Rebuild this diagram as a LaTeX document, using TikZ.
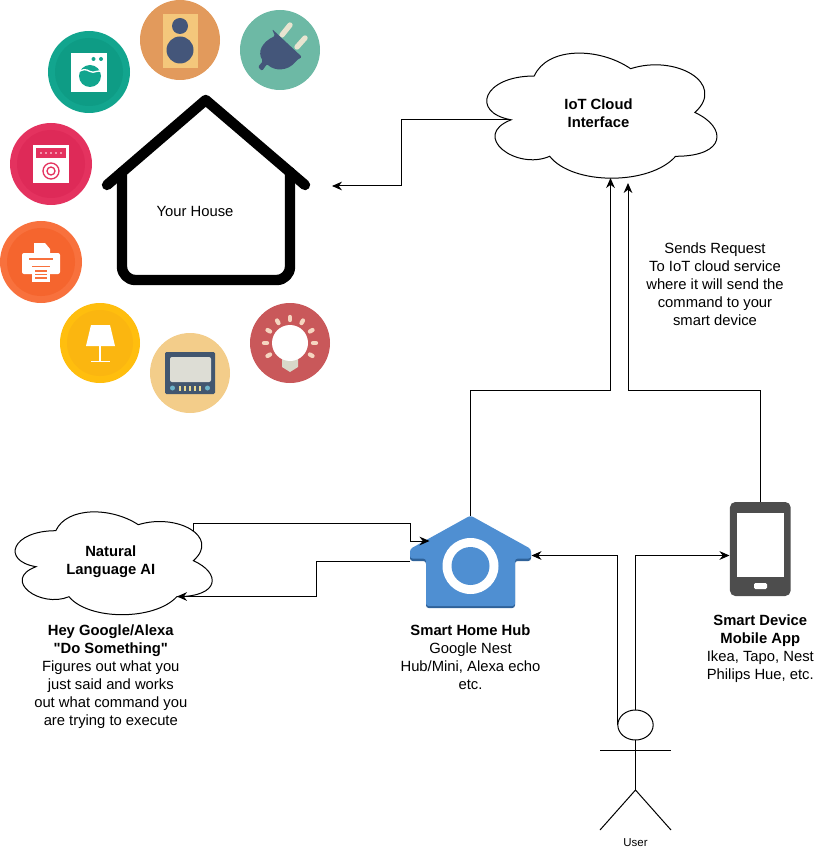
\documentclass[tikz,border=0pt]{standalone}
\usepackage{fontspec}
\setmainfont{Liberation Sans}[Ligatures=TeXOff]
\usetikzlibrary{arrows.meta,shapes.geometric}

\definecolor{hubblue}{HTML}{4F8FD2}
\definecolor{hubdark}{HTML}{2F6299}
\definecolor{phonegrey}{HTML}{4D4D4D}
\definecolor{navy}{HTML}{44567A}
\definecolor{speakerbg}{HTML}{E29A5C}
\definecolor{speakerbox}{HTML}{F4C77B}
\definecolor{plugbg}{HTML}{6DB9A5}
\definecolor{prong}{HTML}{E8E4D0}
\definecolor{washerbg}{HTML}{12A58E}
\definecolor{washerin}{HTML}{0E9C85}
\definecolor{ovenbg}{HTML}{E4325F}
\definecolor{ovenin}{HTML}{DE2A58}
\definecolor{printerbg}{HTML}{F8713D}
\definecolor{printerin}{HTML}{F5652E}
\definecolor{lampbg}{HTML}{FFBE0E}
\definecolor{lampin}{HTML}{FBB610}
\definecolor{tvbg}{HTML}{F3CD8A}
\definecolor{tvbody}{HTML}{42566F}
\definecolor{tvscreen}{HTML}{DDDDD5}
\definecolor{tvbutton}{HTML}{6DB3C9}
\definecolor{tvdot}{HTML}{E8D890}
\definecolor{bulbbg}{HTML}{C9585A}
\definecolor{bulbray}{HTML}{F5D5C0}
\definecolor{bulbcap}{HTML}{D8D8C8}

\tikzset{
  pics/cloudshape/.style 2 args={code={\draw[x=#1,y=-#2,line width=.75pt]
      (.25,.25) .. controls (.05,.25) and (0,.5) .. (.16,.55)
      .. controls (0,.66) and (.18,.9) .. (.31,.8)
      .. controls (.4,1) and (.7,1) .. (.8,.8)
      .. controls (1,.8) and (1,.6) .. (.875,.5)
      .. controls (1,.3) and (.8,.1) .. (.625,.2)
      .. controls (.5,.05) and (.3,.05) .. (.25,.25) -- cycle;}},
  iconball/.style={circle,minimum size=60pt},
  link/.style={draw=black,line width=.75pt,-{Stealth[length=7.5pt,width=6.5pt]}},
  plainlink/.style={draw=black,line width=.75pt},
  wall/.style={draw=black,line width=7.8pt,line cap=round,line join=round}
}

\begin{document}
\begin{tikzpicture}[x=.75pt,y=-.75pt,every node/.style={inner sep=0pt,outer sep=0pt,align=center,font=\fontsize{11.1}{13.5}\selectfont}]
  \useasboundingbox (0,0) rectangle (821,852);

  % the house
  \draw[wall] (107,185) -- (205.7,100) -- (305,185);
  \draw[wall,rounded corners=10pt] (122,172) -- (122,280) -- (290,280) -- (290,172);
  \node (house) at (195,211) {Your House};
  \coordinate (housein) at (332,186);

  % icons round the house
  \node (speaker) [iconball,fill=speakerbg] at (180,40) {};
  \fill[speakerbox] (163,14) rectangle (198,68);
  \fill[navy] (180,26) circle (8) (180,50) circle (13.5);

  \node (plug) [iconball,fill=plugbg] at (280,50) {};
  \draw[prong,line width=4pt,line cap=round] (282,35) -- (290,25) (297,47) -- (305,38);
  \fill[navy,rounded corners=1pt] (272,29) -- (302,57) -- (297,60) .. controls (288,72) and (274,71) .. (267,64) -- (262,71) -- (258,67) -- (263,61) .. controls (257,52) and (262,42) .. (275,36) -- cycle;

  \node (washer) [iconball,fill=washerbg,minimum size=61.5pt] at (89,72) {};
  \fill[washerin] (89,72) circle (34);
  \fill[white] (71,53) rectangle (107,92);
  \fill[washerbg] (93.5,59) circle (2) (101,59) circle (2) (90,76) circle (11);
  \draw[white,line width=1pt] (78,72) .. controls (83,69) and (86,69) .. (90,71.5) .. controls (94,74) and (98,69) .. (102,72);

  \node (oven) [iconball,fill=ovenbg,minimum size=61.5pt] at (51,164) {};
  \fill[ovenin] (51,164) circle (34);
  \fill[white] (33,145) rectangle (69,183);
  \fill[ovenbg] (36,148) rectangle (66,158);
  \foreach \dotx in {41,46,51,56,61} \fill[white] (\dotx,153) circle (.8);
  \draw[ovenbg,line width=1pt] (51,171) circle (8) (51,171) circle (4);

  \node (printer) [iconball,fill=printerbg,minimum size=61.5pt] at (41,262) {};
  \fill[printerin] (41,262) circle (34);
  \fill[white,rounded corners=1.5pt] (22,253) rectangle (60,274);
  \fill[white] (34,243) -- (45,243) -- (50,249) -- (50,257) -- (34,257) -- cycle;
  \draw[printerbg,line width=.8pt] (29,259) -- (53,259);
  \fill[white] (32,267) rectangle (50,282);
  \draw[printerbg,line width=.8pt] (32,266.5) -- (50,266.5) (35,271) -- (47,271) (35,274.5) -- (47,274.5) (35,278) -- (47,278);

  \node (lamp) [iconball,fill=lampbg] at (100,343) {};
  \fill[lampin] (100,343) circle (33);
  \fill[white] (91,325) -- (110,325) -- (115,346) -- (86,346) -- cycle;
  \draw[white,line width=.9pt] (100,346) -- (100,361) (91,361.5) -- (110,361.5);

  \node (tv) [iconball,fill=tvbg] at (190,373) {};
  \fill[tvbody,rounded corners=1pt] (165,352) rectangle (215,394);
  \fill[tvscreen,rounded corners=1.5pt] (170,357) rectangle (211,382);
  \fill[tvbutton] (172.5,388) circle (2.5) (207.5,388) circle (2.5);
  \foreach \dotx in {179,184,189,194,199} \fill[tvdot] (\dotx,386) rectangle (\dotx+2,391);

  \node (bulb) [iconball,fill=bulbbg] at (290,343) {};
  \fill[bulbcap] (282,358) -- (298,358) -- (298,367) -- (290,372) -- (282,367) -- cycle;
  \fill[white] (290,343) circle (18);
  \foreach \a in {-30,0,...,210}
    \draw[bulbray,line width=3.2pt,line cap=round] (290,343) ++(\a:-23) -- ++(\a:-3);

  % the clouds
  \pic at (470,39.5) {cloudshape={192.75pt}{109.5pt}};
  \pic at (0.8,500.7) {cloudshape={165pt}{90pt}};
  \node (iotcloud) [minimum width=192.75pt,minimum height=109.5pt] at (598.5,113.5) {\textbf{IoT Cloud}\\\textbf{Interface}};
  \node (aicloud) [minimum width=165pt,minimum height=90pt] at (110.8,561.5) {\textbf{Natural}\\\textbf{Language AI}};
  \coordinate (iotout) at (510,120);
  \coordinate (iotin) at (610.5,178);
  \coordinate (iotinb) at (628,183);
  \coordinate (aiout) at (193.5,531);
  \coordinate (aiin) at (177,596.5);

  % the hub
  \fill[hubdark,rounded corners=2pt] (470.5,518) -- (531,551) -- (531,561) -- (515,561) -- (515,608) -- (426,608) -- (426,561) -- (410,561) -- (410,551) -- cycle;
  \fill[hubblue,rounded corners=2pt] (470.5,515.5) -- (531,549) -- (531,558.5) -- (515,558.5) -- (515,606) -- (426,606) -- (426,558.5) -- (410,558.5) -- (410,549) -- cycle;
  \fill[white] (470.5,566) circle (28);
  \fill[hubblue] (470.5,566) circle (19);
  \node (hub) [minimum width=90.75pt,minimum height=68.25pt] at (470.5,561) {};
  \coordinate (hubin) at (429.5,541);
  \coordinate (hubout) at (410,561);
  \coordinate (hubright) at (531.5,555.5);
  \node (hublabel) [below of=hub,node distance=72.3pt] {\textbf{Smart Home Hub}\\Google Nest~\\Hub/Mini, Alexa echo\\etc.};

  % the phone
  \node (phone) [fill=phonegrey,rounded corners=4pt,minimum width=45.5pt,minimum height=70.5pt] at (760.3,549) {};
  \node (phonescreen) [fill=white,minimum width=35.25pt,minimum height=48pt] at (760.5,545) {};
  \node (phonebutton) [fill=white,rounded corners=1pt,minimum width=9.75pt,minimum height=4.5pt] at (760.5,586) {};
  \coordinate (phonein) at (729.5,555.5);
  \node (phonelabel) [below of=phone,node distance=74.6pt] {\textbf{Smart Device}\\\textbf{Mobile App}\\Ikea, Tapo, Nest\\Philips Hue, etc.};

  % the user
  \node (head) [draw=black,line width=.75pt,ellipse,minimum width=26.5pt,minimum height=22.5pt] at (635.5,725) {};
  \coordinate (hip) at (635.5,790);
  \coordinate (armleft) at (600,750);
  \coordinate (armright) at (671,750);
  \coordinate (footleft) at (600,830);
  \coordinate (footright) at (671,830);
  \draw[plainlink] (head.south) -- (hip);
  \draw[plainlink] (armleft) -- (armright);
  \draw[plainlink] (footleft) -- (hip) -- (footright);
  \node (userlabel) [font=\fontsize{8.6}{10}\selectfont] at (635.5,843) {User};

  % other texts
  \node (requestlabel) at (715,284) {Sends Request\\To IoT cloud service\\where it will send the\\command to your\\smart device};
  \node (ailabel) [below of=aicloud,node distance=86.2pt] {\textbf{Hey Google/Alexa}\\\textbf{"Do Something"}\\Figures out what you~\\just said and works\\out what command you\\are trying to execute};

  % connectors
  \draw[link] (iotout) -- (401,120) -- (401,186) -- (housein);
  \draw[link] (hub.north) -- (470.5,390) -- (610.5,390) -- (iotin);
  \draw[link] (phone.north) -- (760.3,390) -- (628,390) -- (iotinb);
  \draw[link] (aiout) -- (193.5,523) -- (410,523) -- (410,541) -- (hubin);
  \draw[link] (hubout) -- (316,561) -- (316,596.5) -- (aiin);
  \draw[link] (head.west) |- (hubright);
  \draw[link] (head.north) |- (phonein);
\end{tikzpicture}
\end{document}
